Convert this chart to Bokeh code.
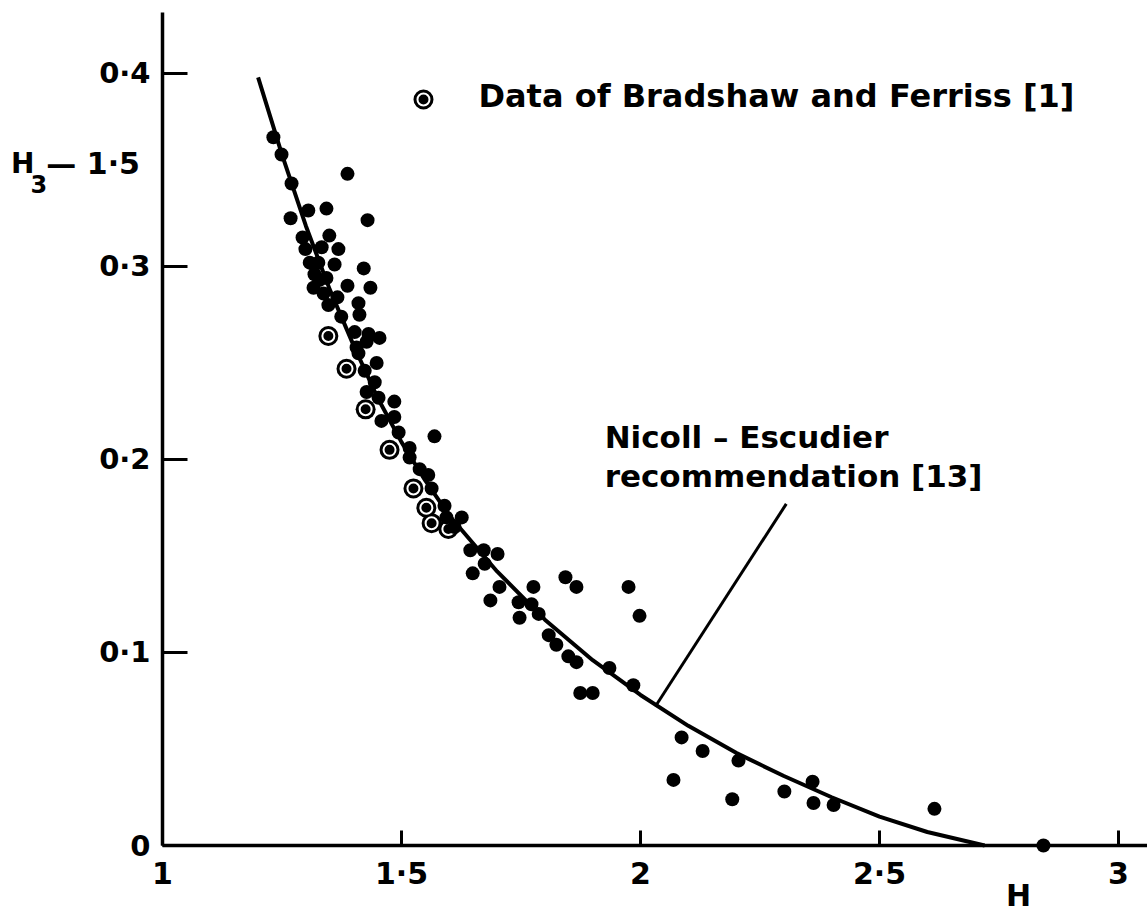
from bokeh.plotting import figure
from bokeh.models import Range1d, FixedTicker, Label
from bokeh.core.properties import value
from bokeh.embed import file_html
from bokeh.resources import INLINE

# Shape factor H against H3 - 1.5
H_pts = [1.232, 1.249, 1.270, 1.387, 1.305, 1.343, 1.268, 1.429, 1.293, 1.349,
         1.299, 1.333, 1.368, 1.308, 1.326, 1.360, 1.421, 1.318, 1.316, 1.387,
         1.435, 1.337, 1.366, 1.347, 1.410, 1.412, 1.374, 1.402, 1.431, 1.454,
         1.406, 1.427, 1.410, 1.448, 1.423, 1.444, 1.427, 1.452, 1.485, 1.485,
         1.458, 1.494, 1.569, 1.517, 1.517, 1.538, 1.556, 1.563, 1.590, 1.594,
         1.626, 1.611, 1.644, 1.672, 1.701, 1.674, 1.649, 1.705, 1.776, 1.843,
         1.866, 1.975, 1.686, 1.745, 1.772, 1.787, 1.747, 1.998, 1.808, 1.824,
         1.849, 1.866, 1.935, 1.985, 1.874, 1.900, 2.086, 2.130, 2.069, 2.205,
         2.192, 2.301, 2.360, 2.362, 2.404, 2.615, 2.843, 1.328, 1.343]
G_pts = [0.367, 0.358, 0.343, 0.348, 0.329, 0.330, 0.325, 0.324, 0.315, 0.316,
         0.309, 0.310, 0.309, 0.302, 0.302, 0.301, 0.299, 0.296, 0.289, 0.290,
         0.289, 0.286, 0.284, 0.280, 0.281, 0.275, 0.274, 0.266, 0.265, 0.263,
         0.258, 0.261, 0.255, 0.250, 0.246, 0.240, 0.235, 0.232, 0.230, 0.222,
         0.220, 0.214, 0.212, 0.206, 0.201, 0.195, 0.192, 0.185, 0.176, 0.170,
         0.170, 0.165, 0.153, 0.153, 0.151, 0.146, 0.141, 0.134, 0.134, 0.139,
         0.134, 0.134, 0.127, 0.126, 0.125, 0.120, 0.118, 0.119, 0.109, 0.104,
         0.098, 0.095, 0.092, 0.083, 0.079, 0.079, 0.056, 0.049, 0.034, 0.044,
         0.024, 0.028, 0.033, 0.022, 0.021, 0.019, 0.000, 0.293, 0.294]

# Data of Bradshaw and Ferriss
H_bf = [1.347, 1.385, 1.425, 1.475, 1.525, 1.552, 1.563, 1.598]
G_bf = [0.264, 0.247, 0.226, 0.205, 0.185, 0.175, 0.167, 0.164]

# Nicoll-Escudier recommendation
curve_H = [1.20, 1.25, 1.30, 1.35, 1.40, 1.45, 1.50, 1.55, 1.60, 1.70,
           1.80, 1.90, 2.00, 2.10, 2.20, 2.30, 2.40, 2.50, 2.60, 2.72]
curve_G = [0.398, 0.358, 0.321, 0.288, 0.259, 0.232, 0.209, 0.189, 0.171, 0.142,
           0.117, 0.096, 0.078, 0.062, 0.048, 0.036, 0.025, 0.015, 0.007, 0.000]

x_ticks = [1.0, 1.5, 2.0, 2.5, 3.0]
x_tick_labels = ["1", "1·5", "2", "2·5", "3"]
y_ticks = [0.0, 0.1, 0.2, 0.3, 0.4]
y_tick_labels = ["0", "0·1", "0·2", "0·3", "0·4"]

FONT = "DejaVu Sans"
FS = "30px"
INK = "black"

X_END = 3.0607
Y_TOP = 0.4316

p = figure(width=1147, height=912,
           x_range=Range1d(1.0, X_END), y_range=Range1d(0.0, Y_TOP),
           output_backend="svg", toolbar_location=None,
           min_border_left=162, min_border_right=0,
           min_border_top=12, min_border_bottom=67)
p.outline_line_color = None
p.grid.visible = False
p.background_fill_color = "white"
p.border_fill_color = "white"

xa = p.xaxis[0]
xa.ticker = FixedTicker(ticks=x_ticks)
xa.major_label_overrides = dict(zip(x_ticks, x_tick_labels))
xa.major_tick_in = 15
xa.major_tick_out = 0
xa.minor_tick_line_color = None
xa.axis_line_width = 3.5
xa.axis_line_color = INK
xa.major_tick_line_width = 3
xa.major_tick_line_color = INK
xa.major_label_standoff = 10
xa.major_label_text_font = FONT
xa.major_label_text_font_size = FS
xa.major_label_text_font_style = "bold"
xa.major_label_text_color = INK

ya = p.yaxis[0]
ya.ticker = FixedTicker(ticks=y_ticks)
ya.major_label_overrides = dict(zip(y_ticks, y_tick_labels))
ya.major_tick_in = 25
ya.major_tick_out = 0
ya.minor_tick_line_color = None
ya.axis_line_width = 3.5
ya.axis_line_color = INK
ya.major_tick_line_width = 3
ya.major_tick_line_color = INK
ya.major_label_standoff = 12
ya.major_label_text_font = FONT
ya.major_label_text_font_size = "29px"
ya.major_label_text_font_style = "bold"
ya.major_label_text_color = INK

# recommended curve
p.line(curve_H, curve_G, line_color=INK, line_width=4, level="overlay")

# ringed markers: black disc with a thin white ring inside
p.scatter(H_bf, G_bf, marker="circle", size=20, fill_color=INK, line_color=None,
          level="overlay")
p.scatter(H_bf, G_bf, marker="circle", size=12, fill_color=None,
          line_color="white", line_width=2, level="overlay")

# solid markers
p.scatter(H_pts, G_pts, marker="circle", size=14, fill_color=INK, line_color=None,
          level="overlay")

# key for the ringed markers
KEY_H, KEY_G = 1.546, 0.3865
p.scatter([KEY_H], [KEY_G], marker="circle", size=20, fill_color=INK, line_color=None)
p.scatter([KEY_H], [KEY_G], marker="circle", size=12, fill_color=None,
          line_color="white", line_width=2)


def label(x, y, text, size=FS, align="left"):
    p.add_layout(Label(x=x, y=y, text=text, text_font=FONT, text_font_size=size,
                       text_font_style="bold", text_color=INK,
                       text_align=align, text_baseline="alphabetic"))


def outer_text(x, y, text, size=FS, align="left"):
    p.text(x=[x], y=[y], text=[text], text_font=value(FONT), text_font_size=size,
           text_font_style="bold", text_color=INK, text_align=align,
           text_baseline="alphabetic", level="overlay")


label(1.661, 0.3881, "Data of Bradshaw and Ferriss [1]", size="32px")

# annotation with its leader line
p.segment(x0=[2.031], y0=[0.072], x1=[2.305], y1=[0.177], line_color=INK, line_width=3)
label(1.925, 0.2119, "Nicoll – Escudier", size="31px")
label(1.925, 0.1917, "recommendation [13]", size="31px")

# axis titles
outer_text(0.683, 0.3534, "H", size="28px")
outer_text(0.724, 0.3430, "3", size="24px")
outer_text(0.757, 0.3534, "— 1·5")
outer_text(2.791, -0.0259, "H", align="center")

open("out.html", "w").write(file_html(p, INLINE))
